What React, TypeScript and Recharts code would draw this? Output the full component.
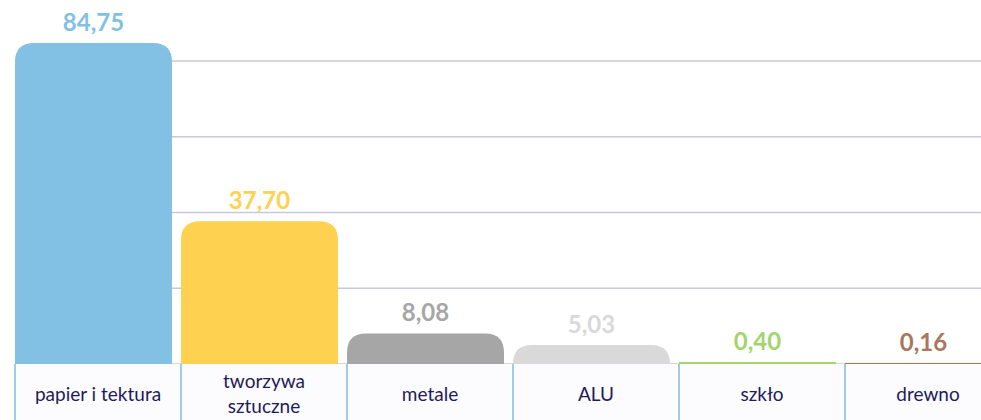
import { Bar, BarChart, CartesianGrid, Cell, LabelList, XAxis, YAxis } from "recharts";

const CATEGORIES = ["papier i tektura", "tworzywa sztuczne", "metale", "ALU", "szkło", "drewno"];
const VALUES = [84.75, 37.7, 8.08, 5.03, 0.4, 0.16];
const Y_TICKS = [0, 20, 40, 60, 80];

const COLORS = ["#82c1e4", "#ffd150", "#a6a6a6", "#d9d9d9", "#a3d46e", "#a9775b"];
const GRID = "#cbc5de";
const BOX_BORDER = "#9fcbe8";
const BOX_FILL = "#fcfcfe";
const CAT_TEXT = "#1f1b5b";
const FONT = "Lato, 'Open Sans', sans-serif";

const BASE_Y = 364;
const SHIFT = 4.5; // bars sit at the left of their category box
const RADIUS = 19;

const data = CATEGORIES.map((name, i) => ({ name, value: VALUES[i] }));

const fmt = (v: number) => v.toFixed(2).replace(".", ",");

function RoundedTop(props: any) {
  const { x, y, width, height, fill } = props;
  const left = x - SHIFT;
  if (height <= 0) return null;
  if (height < 3) {
    return <rect x={left} y={y - 0.5} width={width} height={Math.max(height, 2)} fill={fill} />;
  }
  const r = Math.min(RADIUS, height, width / 2);
  const bottom = y + height;
  const d = `M${left},${bottom} L${left},${y + r} Q${left},${y} ${left + r},${y} L${left + width - r},${y} Q${left + width},${y} ${left + width},${y + r} L${left + width},${bottom} Z`;
  return <path d={d} fill={fill} />;
}

function ValueLabel(props: any) {
  const { x, y, width, value, index } = props;
  return (
    <text
      x={x + width / 2 - SHIFT}
      y={y - 12}
      textAnchor="middle"
      fill={COLORS[index]}
      fontFamily={FONT}
      fontWeight={700}
      fontSize={24}
    >
      {fmt(Number(value))}
    </text>
  );
}

function CategoryTick(props: any) {
  const { x, payload } = props;
  const band = 166;
  const left = x - band / 2;
  const words = String(payload.value) === "tworzywa sztuczne" ? ["tworzywa", "sztuczne"] : [String(payload.value)];
  const cx = left + band / 2;
  const textProps = { textAnchor: "middle" as const, fill: CAT_TEXT, fontFamily: FONT, fontSize: 19 };
  return (
    <g>
      <rect x={left} y={BASE_Y} width={band} height={80} fill={BOX_FILL} stroke="none" />
      <line x1={left} y1={BASE_Y} x2={left} y2={BASE_Y + 80} stroke={BOX_BORDER} strokeWidth={2} />
      <line x1={left + band} y1={BASE_Y} x2={left + band} y2={BASE_Y + 80} stroke={BOX_BORDER} strokeWidth={2} />
      {words.length === 1 ? (
        <text x={cx} y={BASE_Y + 37} {...textProps}>
          {words[0]}
        </text>
      ) : (
        <>
          <text x={cx} y={BASE_Y + 24} {...textProps}>
            {words[0]}
          </text>
          <text x={cx} y={BASE_Y + 49} {...textProps}>
            {words[1]}
          </text>
        </>
      )}
    </g>
  );
}

export default function App() {
  return (
    <div
      style={{
        position: "absolute",
        left: 0,
        top: 0,
        width: 981,
        height: 420,
        overflow: "hidden",
        background: "#ffffff",
      }}
    >
      <BarChart
        width={1011}
        height={440}
        data={data}
        margin={{ top: 23, right: 0, left: 15, bottom: 0 }}
        barCategoryGap={4.5}
      >
        <CartesianGrid vertical={false} horizontalValues={Y_TICKS} stroke={GRID} strokeWidth={1.5} />
        <YAxis hide domain={[0, 90]} ticks={Y_TICKS} />
        <XAxis
          dataKey="name"
          height={76}
          interval={0}
          axisLine={false}
          tickLine={false}
          tickSize={0}
          tick={<CategoryTick />}
        />
        <Bar dataKey="value" shape={<RoundedTop />} isAnimationActive={false}>
          {data.map((d, i) => (
            <Cell key={d.name} fill={COLORS[i]} />
          ))}
          <LabelList dataKey="value" content={<ValueLabel />} />
        </Bar>
      </BarChart>
    </div>
  );
}
